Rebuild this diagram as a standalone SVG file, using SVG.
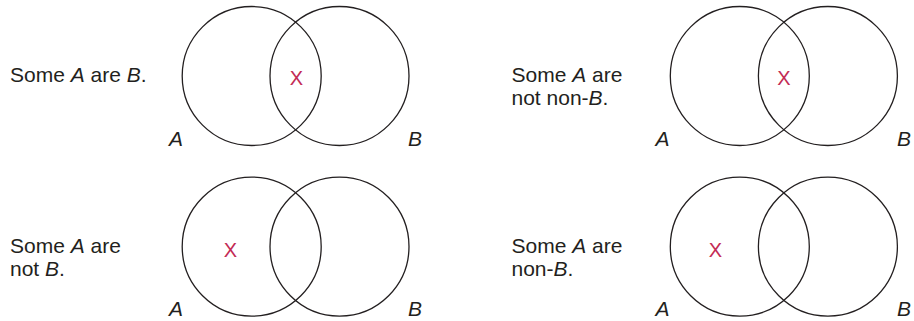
<svg xmlns="http://www.w3.org/2000/svg" width="914" height="321" viewBox="0 0 914 321">
<style>
.c{fill:none;stroke:#231f20;stroke-width:1.3}
.t{font-family:"Liberation Sans",Arial,sans-serif;font-size:21px;fill:#231f20}
.i{font-style:italic}
.x{font-family:"Liberation Sans",Arial,sans-serif;font-size:20px;fill:#c32b55;text-anchor:middle}
</style>
<rect width="914" height="321" fill="#fff"/>
<g id="d1">
<text class="t" x="10" y="82">Some <tspan class="i">A</tspan> are <tspan class="i">B</tspan>.</text>
<circle class="c" cx="251.7" cy="76" r="69.5"/>
<circle class="c" cx="339.5" cy="76" r="69.5"/>
<text class="x" x="296.5" y="84.5">X</text>
<text class="t i" x="169" y="146">A</text>
<text class="t i" x="408" y="146">B</text>
</g>
<g id="d2">
<text class="t" x="511.5" y="82">Some <tspan class="i">A</tspan> are</text>
<text class="t" x="511.5" y="105">not non-<tspan class="i">B</tspan>.</text>
<circle class="c" cx="739.8" cy="76" r="69.5"/>
<circle class="c" cx="827.9" cy="76" r="69.5"/>
<text class="x" x="784" y="84.5">X</text>
<text class="t i" x="655.5" y="146">A</text>
<text class="t i" x="897" y="146">B</text>
</g>
<g id="d3">
<text class="t" x="10" y="253">Some <tspan class="i">A</tspan> are</text>
<text class="t" x="10" y="276">not <tspan class="i">B</tspan>.</text>
<circle class="c" cx="251.7" cy="246.6" r="69.5"/>
<circle class="c" cx="339.5" cy="246.6" r="69.5"/>
<text class="x" x="230.3" y="256.5">X</text>
<text class="t i" x="169" y="316">A</text>
<text class="t i" x="408" y="316">B</text>
</g>
<g id="d4">
<text class="t" x="511.5" y="253">Some <tspan class="i">A</tspan> are</text>
<text class="t" x="511.5" y="276">non-<tspan class="i">B</tspan>.</text>
<circle class="c" cx="739.8" cy="246.6" r="69.5"/>
<circle class="c" cx="827.9" cy="246.6" r="69.5"/>
<text class="x" x="715.3" y="256.5">X</text>
<text class="t i" x="655.5" y="316">A</text>
<text class="t i" x="897" y="316">B</text>
</g>
<g id="connectors"/>
</svg>
